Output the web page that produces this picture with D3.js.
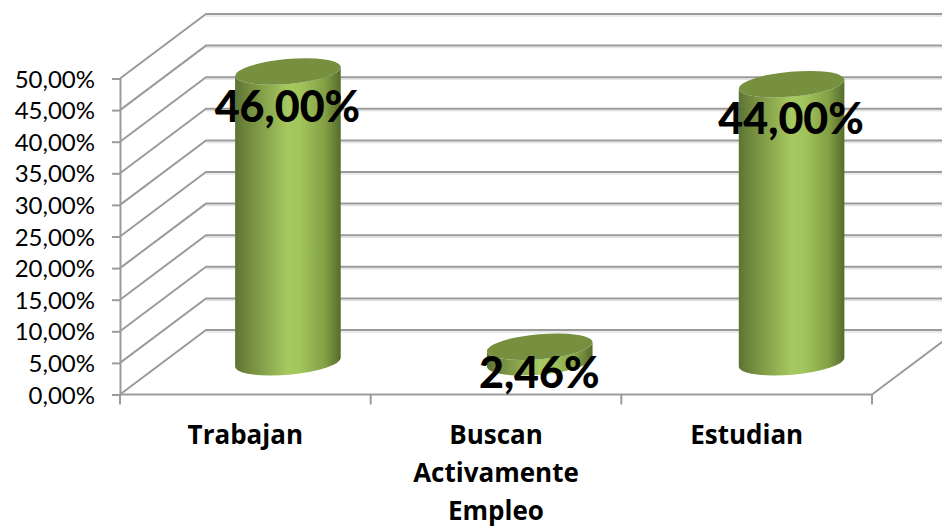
<!DOCTYPE html>
<html>
<head>
<meta charset="utf-8">
<script src="https://d3js.org/d3.v7.min.js"></script>
<style>
html, body { margin: 0; padding: 0; background: #fff; overflow: hidden; }
text { font-family: Lato, sans-serif; fill: #000; }
.tick text { font-size: 24px; }
.cat text { font-family: "Open Sans", sans-serif; font-size: 26px; font-weight: 700; }
.val { font-size: 43px; font-weight: 900; text-anchor: middle; }
</style>
</head>
<body>
<script>
var categories = ["Trabajan", "Buscan Activamente Empleo", "Estudian"];
var values = [46, 2.46, 44];
var valueLabels = ["46,00%", "2,46%", "44,00%"];
var yTicks = [0, 5, 10, 15, 20, 25, 30, 35, 40, 45, 50];

var width = 942, height = 528;
var gridColor = "#9b9b9b";

// oblique offset of the back wall
var depthX = 86, depthY = -64.5;

var x = d3.scaleBand().domain(categories).range([120, 872]);
var barX = d3.scaleBand().domain(categories).range([119, 874.5]);
var y = d3.scaleLinear().domain([0, 50]).range([394.5, 78.5]);
var fmt = d3.formatLocale({decimal: ",", thousands: ".", grouping: [3], currency: ["", ""]}).format(".2f");

var svg = d3.select("body").append("svg")
  .attr("width", width)
  .attr("height", height);

var defs = svg.append("defs");
var grad = defs.append("linearGradient").attr("id", "body");
grad.selectAll("stop")
  .data([[0, "#5d7433"], [0.12, "#71893d"], [0.5, "#a6c960"], [0.62, "#a2c45c"], [0.85, "#83a044"], [1, "#566b2d"]])
  .enter().append("stop")
  .attr("offset", function(d) { return d[0]; })
  .attr("stop-color", function(d) { return d[1]; });

/* back wall and side wall lines */
var grid = svg.append("g").attr("fill", "none");

grid.selectAll(".shade")
  .data(yTicks)
  .enter().append("line")
  .attr("x1", x.range()[0] + depthX)
  .attr("x2", x.range()[1] + depthX)
  .attr("y1", function(d) { return y(d) + depthY + 2; })
  .attr("y2", function(d) { return y(d) + depthY + 2; })
  .attr("stroke", "#e4e4e4")
  .attr("stroke-width", 1.5);

grid.selectAll(".back")
  .data(yTicks)
  .enter().append("path")
  .attr("d", function(d) {
    return "M" + x.range()[0] + "," + y(d)
      + "L" + (x.range()[0] + depthX) + "," + (y(d) + depthY)
      + "H" + (x.range()[1] + depthX);
  })
  .attr("stroke", gridColor)
  .attr("stroke-width", 2);

/* floor edge on the right */
grid.append("line")
  .attr("x1", x.range()[1])
  .attr("y1", y(0))
  .attr("x2", x.range()[1] + depthX)
  .attr("y2", y(0) + depthY)
  .attr("stroke", gridColor)
  .attr("stroke-width", 2);

/* cylinders */
var rx = 53, ry = 12.5, tilt = 5 * Math.PI / 180;
var ex = rx * Math.cos(tilt), ey = rx * Math.sin(tilt);

function mid(v) { return y(v) + depthY / 2; }
function cx(c) { return barX(c) + barX.bandwidth() / 2 + depthX / 2; }

var bars = svg.append("g").selectAll("g")
  .data(categories)
  .enter().append("g");

bars.append("path")
  .attr("fill", "url(#body)")
  .attr("d", function(c, i) {
    var top = mid(values[i]), base = mid(0), X = cx(c);
    return "M" + (X - ex) + "," + (top + ey)
      + "L" + (X - ex) + "," + (base + ey)
      + "A" + rx + "," + ry + " -5 0 0 " + (X + ex) + "," + (base - ey)
      + "L" + (X + ex) + "," + (top - ey)
      + "A" + rx + "," + ry + " -5 0 1 " + (X - ex) + "," + (top + ey)
      + "Z";
  });

bars.append("ellipse")
  .attr("rx", rx)
  .attr("ry", ry)
  .attr("fill", "#76903f")
  .attr("transform", function(c, i) {
    return "translate(" + cx(c) + "," + mid(values[i]) + ") rotate(-5)";
  });

/* axes */
var axisY = svg.append("g")
  .attr("transform", "translate(" + x.range()[0] + ",0)")
  .call(d3.axisLeft(y).tickValues(yTicks).tickSize(8).tickPadding(17)
    .tickFormat(function(d) { return fmt(d) + "%"; }));
axisY.select(".domain").attr("stroke", gridColor).attr("stroke-width", 2);
axisY.selectAll(".tick line").attr("stroke", gridColor).attr("stroke-width", 2);
axisY.selectAll(".tick text").attr("dy", "0.36em");

svg.append("line")
  .attr("x1", x.range()[0]).attr("x2", x.range()[1])
  .attr("y1", y(0)).attr("y2", y(0))
  .attr("stroke", gridColor).attr("stroke-width", 2);

svg.append("g").selectAll("line")
  .data(categories.concat(["end"]))
  .enter().append("line")
  .attr("x1", function(c, i) { return x.range()[0] + i * x.step(); })
  .attr("x2", function(c, i) { return x.range()[0] + i * x.step(); })
  .attr("y1", y(0))
  .attr("y2", y(0) + 10)
  .attr("stroke", gridColor)
  .attr("stroke-width", 2);

/* category labels, wrapped */
var cat = svg.append("g").attr("class", "cat").selectAll("text")
  .data(categories)
  .enter().append("text")
  .attr("text-anchor", "middle");

cat.selectAll("tspan")
  .data(function(c) {
    return c.split(" ").map(function(w) { return {word: w, c: c}; });
  })
  .enter().append("tspan")
  .attr("x", function(d) { return x(d.c) + x.bandwidth() / 2; })
  .attr("y", function(d, i) { return 444 + i * 38; })
  .text(function(d) { return d.word; });

/* value labels */
svg.append("g").selectAll("text")
  .data(categories)
  .enter().append("text")
  .attr("class", "val")
  .attr("x", function(c) { return cx(c) - 0.5; })
  .attr("y", function(c, i) { return Math.min(mid(values[i]) + 50, y(0) - 7); })
  .text(function(c, i) { return valueLabels[i]; });
</script>
</body>
</html>
